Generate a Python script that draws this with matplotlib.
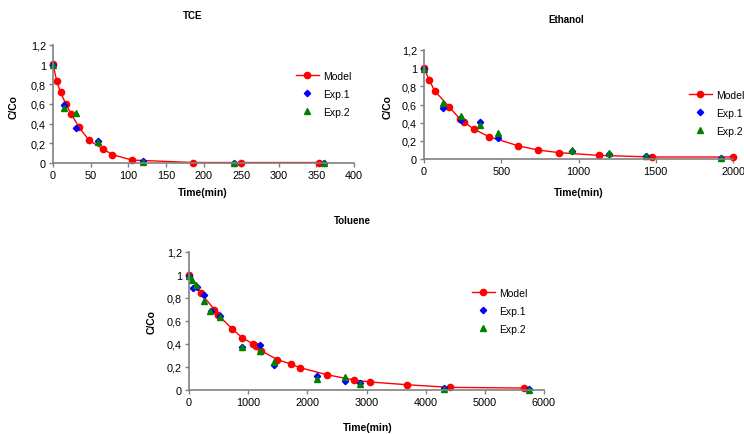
import matplotlib
matplotlib.use('Agg')
import matplotlib.pyplot as plt
from matplotlib.ticker import FuncFormatter

plt.rcParams['font.family'] = ['Liberation Sans', 'DejaVu Sans']

# TCE
tce_model_t = [0, 5, 10, 17, 24, 34, 48, 67, 79, 105, 186, 250, 354]
tce_model_c = [1.01, 0.83, 0.72, 0.60, 0.50, 0.37, 0.23, 0.14, 0.085, 0.03, 0.005, 0.005, 0.005]
tce_exp1_t = [0, 15, 30, 60, 120, 240, 360]
tce_exp1_c = [1.0, 0.59, 0.36, 0.22, 0.02, 0.0, 0.0]
tce_exp2_t = [0, 15, 30, 60, 120, 240, 360]
tce_exp2_c = [1.0, 0.56, 0.51, 0.21, 0.015, 0.0, 0.0]

# Ethanol
eth_model_t = [0, 34, 69, 162, 233, 259, 321, 422, 606, 737, 875, 1130, 1478, 2000]
eth_model_c = [1.0, 0.87, 0.75, 0.576, 0.44, 0.41, 0.33, 0.245, 0.147, 0.099, 0.07, 0.04, 0.022, 0.022]
eth_exp1_t = [0, 120, 240, 360, 480, 960, 1200, 1440, 1920]
eth_exp1_c = [0.99, 0.56, 0.43, 0.41, 0.23, 0.09, 0.06, 0.03, 0.01]
eth_exp2_t = [0, 120, 240, 360, 480, 960, 1200, 1440, 1920]
eth_exp2_c = [0.99, 0.62, 0.47, 0.37, 0.29, 0.10, 0.065, 0.035, 0.015]

# Toluene
tol_model_t = [0, 203, 429, 496, 733, 897, 1083, 1128, 1224, 1490, 1720, 1878, 2330, 2792, 3051, 3677, 4410, 5668]
tol_model_c = [1.0, 0.84, 0.70, 0.65, 0.53, 0.455, 0.40, 0.385, 0.34, 0.265, 0.226, 0.194, 0.133, 0.087, 0.07, 0.046, 0.023, 0.017]
tol_exp1_t = [0, 68, 135, 254, 367, 530, 902, 1207, 1433, 2155, 2634, 2882, 4315, 5746]
tol_exp1_c = [0.99, 0.89, 0.90, 0.83, 0.69, 0.645, 0.375, 0.39, 0.215, 0.125, 0.08, 0.06, 0.015, 0.005]
tol_exp2_t = [0, 56, 124, 248, 361, 530, 902, 1207, 1444, 2155, 2645, 2882, 4315, 5746]
tol_exp2_c = [0.99, 0.96, 0.91, 0.77, 0.69, 0.635, 0.375, 0.335, 0.245, 0.10, 0.115, 0.05, 0.012, 0.0]

W, H = 744, 435
fig = plt.figure(figsize=(W / 100, H / 100), dpi=100)


def px(l, t, r, b):
    return [l / W, 1 - b / H, (r - l) / W, (b - t) / H]


comma = FuncFormatter(lambda v, p: ('%g' % round(v, 1)).replace('.', ','))


def panel(rect, title, tpos, xlpos, ylpos, legpos, xmax, xstep,
          mt, mc, e1t, e1c, e2t, e2c):
    ax = fig.add_axes(px(*rect))
    ax.plot(mt, mc, '-o', color='red', lw=1, ms=4.5, label='Model')
    ax.plot(e1t, e1c, 'D', color='blue', ms=3.2, ls='none', label='Exp.1')
    ax.plot(e2t, e2c, '^', color='green', ms=4.5, ls='none', label='Exp.2')
    ax.set_xlim(0, xmax)
    ax.set_ylim(0, 1.2)
    ax.set_xticks(range(0, xmax + 1, xstep))
    ax.set_yticks([0, 0.2, 0.4, 0.6, 0.8, 1.0, 1.2])
    ax.yaxis.set_major_formatter(comma)
    for s in ['top', 'right']:
        ax.spines[s].set_visible(False)
    for s in ['left', 'bottom']:
        ax.spines[s].set_color('#808080')
        ax.spines[s].set_linewidth(1.2)
    ax.tick_params(labelsize=7.8, length=3, width=1, color='#808080', pad=2)
    for ln in ax.lines:
        ln.set_clip_on(False)
    fig.text(tpos[0] / W, 1 - tpos[1] / H, title, ha='center', va='center',
             fontsize=7, fontweight='bold')
    fig.text(xlpos[0] / W, 1 - xlpos[1] / H, 'Time(min)', ha='center', va='center',
             fontsize=7.5, fontweight='bold')
    fig.text(ylpos[0] / W, 1 - ylpos[1] / H, 'C/Co', ha='center', va='center',
             fontsize=7.5, fontweight='bold', rotation=90)
    ax.legend(loc='upper left', bbox_to_anchor=(legpos[0] / W, 1 - legpos[1] / H),
              bbox_transform=fig.transFigure, frameon=False, fontsize=7.5,
              handlelength=2.2, handletextpad=0.4, labelspacing=0.75,
              borderaxespad=0, borderpad=0)
    return ax


panel((53, 46, 354, 164), 'TCE', (193, 16), (203, 193), (14, 107), (296, 72),
      400, 50, tce_model_t, tce_model_c, tce_exp1_t, tce_exp1_c, tce_exp2_t, tce_exp2_c)
panel((424, 51, 733, 160), 'Ethanol', (566, 20), (579, 193), (388, 107), (689, 91),
      2000, 500, eth_model_t, eth_model_c, eth_exp1_t, eth_exp1_c, eth_exp2_t, eth_exp2_c)
panel((189, 253, 544, 391), 'Toluene', (352, 221), (368, 428), (152, 322), (472, 289),
      6000, 1000, tol_model_t, tol_model_c, tol_exp1_t, tol_exp1_c, tol_exp2_t, tol_exp2_c)

fig.savefig('out.png', dpi=100)
